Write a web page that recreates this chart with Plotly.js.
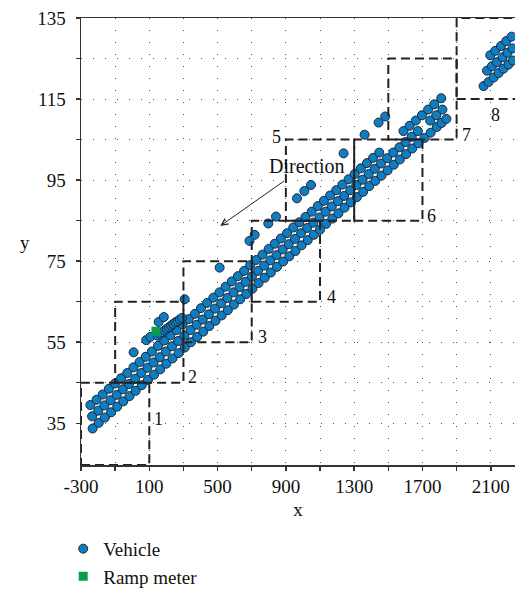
<!DOCTYPE html>
<html>
<head>
<meta charset="utf-8">
<script src="https://cdn.plot.ly/plotly-3.0.1.min.js"></script>
<style>html,body{margin:0;padding:0;background:#fff;}#chart{width:515px;height:596px;}</style>
</head>
<body>
<div id="chart"></div>
<script>
// ---- Data ----
// Lane 1 (upper main lane)
const lane1X = [-245,-209,-173,-137,-101,-65,-29,7,43,79,115,151,187,223,259,295,331,367,403,439,475,511,547,583,619,655,691,727,763,799,835,871,907,943,979,1015,1051,1087,1123,1159,1195,1231,1267,1303,1339,1375,1411,1447,1589,1625,1661,1697,1733,1769,1810];
const lane1Y = [39.5,40.8,42.1,43.5,44.8,46.1,47.4,48.8,50.1,51.4,52.7,54.1,55.4,56.7,58.0,59.4,60.7,62.0,63.4,64.7,66.0,67.3,68.7,70.0,71.3,72.6,74.0,75.3,76.6,78.0,79.3,80.6,81.9,83.3,84.6,85.9,87.2,88.6,89.9,91.2,92.5,93.9,95.2,96.5,97.9,99.2,100.5,101.8,107.1,108.4,109.7,111.0,112.4,113.7,115.2];
// Lane 2 (middle lane)
const lane2X = [-235,-199,-163,-127,-91,-55,-19,17,53,89,125,161,197,233,269,305,341,377,413,449,485,521,557,593,629,665,701,737,773,809,845,881,917,953,989,1025,1061,1097,1133,1169,1205,1241,1277,1313,1349,1385,1421,1457,1493,1529,1565,1601,1637,1673,1745,1781,1817];
const lane2Y = [36.7,38.1,39.4,40.7,42.0,43.4,44.7,46.0,47.4,48.7,50.0,51.3,52.7,54.0,55.3,56.6,58.0,59.3,60.6,61.9,63.3,64.6,65.9,67.3,68.6,69.9,71.2,72.6,73.9,75.2,76.5,77.9,79.2,80.5,81.9,83.2,84.5,85.8,87.2,88.5,89.8,91.1,92.5,93.8,95.1,96.5,97.8,99.1,100.4,101.8,103.1,104.4,105.7,107.1,109.7,111.0,112.4];
// Lane 3 (lower lane)
const lane3X = [-232,-196,-160,-124,-88,-52,-16,20,56,92,128,164,200,236,272,308,344,380,416,452,488,524,560,596,632,668,704,740,776,812,848,884,920,956,992,1028,1064,1100,1136,1172,1208,1244,1280,1316,1352,1388,1424,1460,1496,1532,1568,1604,1640,1676,1712,1748,1784,1812,1840];
const lane3Y = [33.7,35.1,36.4,37.7,39.1,40.4,41.7,43.0,44.4,45.7,47.0,48.3,49.7,51.0,52.3,53.7,55.0,56.3,57.6,59.0,60.3,61.6,62.9,64.3,65.6,66.9,68.2,69.6,70.9,72.2,73.6,74.9,76.2,77.5,78.9,80.2,81.5,82.8,84.2,85.5,86.8,88.2,89.5,90.8,92.1,93.5,94.8,96.1,97.4,98.8,100.1,101.4,102.8,104.1,105.4,106.7,108.1,109.1,110.1];
// Vehicles in zone 8 (top right)
const zone8X = [2097,2126,2160,2191,2222, 2078,2107,2136,2169,2198,2228, 2058,2087,2117,2146,2175,2204,2230];
const zone8Y = [125.8,126.9,128.1,129.3,130.4, 122.0,123.1,124.1,125.3,126.4,127.5, 118.2,119.2,120.3,121.4,122.5,123.5,124.5];
// Isolated vehicles above the main lanes
const extraX = [307,512,687,717,797,842,965,1008,1047,1238,1361,1443,1482];
const extraY = [65.6,73.4,80.0,81.5,84.3,86.0,90.5,92.3,93.8,101.6,106.2,109.2,110.7];
// On-ramp vehicles
const rampX = [8,82,106,155,185];
const rampY = [52.5,55.5,56.3,60.0,61.2];
// Queue of vehicles merging after the ramp meter
const queueX = [150,165,178,190,203,215,228,240,253,266,279,292];
const queueY = [56.6,57.1,57.5,57.9,58.3,58.7,59.1,59.5,59.9,60.2,60.6,61.0];
// Ramp meter
const meterX = [139];
const meterY = [57.7];

// Zones (dashed boxes)
const zoneNames = ['1','2','3','4','5','6','7','8'];
const zoneX0 = [-300,-100,300,700,900,1300,1500,1900];
const zoneX1 = [100,300,700,1100,1300,1700,1900,2400];
const zoneY0 = [24.7,45,55,65,85,85,105,115];
const zoneY1 = [45,65,75,85,105,105,125,135];

// Axis ticks
const xTickVals = [-300,-100,100,300,500,700,900,1100,1300,1500,1700,1900,2100];
const xTickText = ['-300','','100','','500','','900','','1300','','1700','','2100'];
const yTickVals = [35,45,55,65,75,85,95,105,115,125,135];
const yTickText = ['35','','55','','75','','95','','115','','135'];

// ---- Chart ----
const serif = 'Liberation Serif, DejaVu Serif, serif';
const vehX = [].concat(lane1X, lane2X, lane3X, zone8X, extraX, rampX, queueX);
const vehY = [].concat(lane1Y, lane2Y, lane3Y, zone8Y, extraY, rampY, queueY);

const traces = [
  {x: vehX, y: vehY, type: 'scatter', mode: 'markers', name: 'Vehicle',
   marker: {symbol: 'circle', size: 9, color: '#0f7dc2', line: {color: '#1b2838', width: 1}},
   cliponaxis: true},
  {x: meterX, y: meterY, type: 'scatter', mode: 'markers', name: 'Ramp meter',
   marker: {symbol: 'square', size: 9, color: '#0a9c4a'}}
];

const shapes = zoneNames.map((n, i) => ({
  type: 'rect', xref: 'x', yref: 'y',
  x0: zoneX0[i], x1: zoneX1[i], y0: zoneY0[i], y1: zoneY1[i],
  line: {color: '#222', width: 2, dash: '9px,5px'}, fillcolor: 'rgba(0,0,0,0)', layer: 'above'
}));

const annFont = {family: serif, size: 18, color: '#111'};
const annotations = [
  {x: 100, y: 36, text: '1', xanchor: 'left', xshift: 3},
  {x: 300, y: 46.4, text: '2', xanchor: 'left', xshift: 3},
  {x: 700, y: 56.3, text: '3', xanchor: 'left', xshift: 4},
  {x: 1100, y: 66.1, text: '4', xanchor: 'left', xshift: 5},
  {x: 900, y: 105.7, text: '5', xanchor: 'right', xshift: -3},
  {x: 1700, y: 86.1, text: '6', xanchor: 'left', xshift: 3},
  {x: 1900, y: 106.2, text: '7', xanchor: 'left', xshift: 3},
  {x: 2130, y: 111, text: '8'}
].map(a => Object.assign({xref: 'x', yref: 'y', showarrow: false, font: annFont}, a));

annotations.push({x: 1024, y: 98.6, xref: 'x', yref: 'y', text: 'Direction', showarrow: false,
  font: {family: serif, size: 20, color: '#111'}});
annotations.push({x: 516, y: 83.7, ax: 897, ay: 95, xref: 'x', yref: 'y', axref: 'x', ayref: 'y',
  text: '', showarrow: true, arrowhead: 5, arrowsize: 1.3, arrowwidth: 1, arrowcolor: '#222'});
annotations.push({x: -0.145, y: 0.497, xref: 'paper', yref: 'paper', text: 'y', showarrow: false,
  font: {family: serif, size: 19, color: '#111'}});

const layout = {
  width: 515, height: 596,
  margin: {l: 81, r: 0, t: 18, b: 131},
  paper_bgcolor: '#fff', plot_bgcolor: '#fff',
  font: {family: serif, size: 19, color: '#111'},
  showlegend: true,
  legend: {x: -0.041, xanchor: 'left', y: -0.145, yanchor: 'top',
           font: {family: serif, size: 19, color: '#111'},
           bgcolor: 'rgba(0,0,0,0)', tracegroupgap: 0},
  xaxis: {
    range: [-300, 2242], tickmode: 'array', tickvals: xTickVals, ticktext: xTickText,
    showgrid: true, gridcolor: '#555', gridwidth: 1, griddash: '1px,11px',
    zeroline: false, showline: true, linecolor: '#333', linewidth: 1.5, mirror: true,
    ticks: 'outside', ticklen: 4, tickcolor: '#333', tickwidth: 1.5,
    tickfont: {family: serif, size: 19, color: '#111'},
    title: {text: 'x', font: {family: serif, size: 19, color: '#111'}, standoff: 6}
  },
  yaxis: {
    range: [24.7, 135], tickmode: 'array', tickvals: yTickVals, ticktext: yTickText,
    showgrid: true, gridcolor: '#555', gridwidth: 1, griddash: '1px,11px',
    zeroline: false, showline: true, linecolor: '#333', linewidth: 1.5, mirror: false,
    ticks: 'outside', ticklen: 4, tickcolor: '#333', tickwidth: 1.5,
    ticklabelstandoff: 6,
    tickfont: {family: serif, size: 19, color: '#111'}
  },
  shapes: shapes,
  annotations: annotations
};

Plotly.newPlot('chart', traces, layout, {displayModeBar: false, staticPlot: true});
</script>
</body>
</html>
